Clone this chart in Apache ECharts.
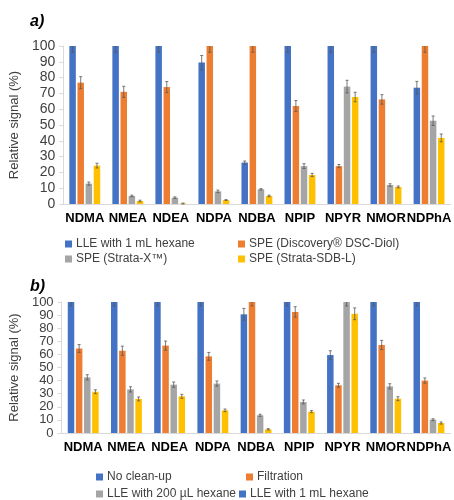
<!DOCTYPE html>
<html>
<head>
<meta charset="utf-8">
<script src="https://cdn.jsdelivr.net/npm/echarts@6/dist/echarts.min.js"></script>
<style>
  html, body { margin: 0; padding: 0; background: #fff; }
  #chart { width: 454px; height: 500px; }
</style>
</head>
<body>
<div id="chart"></div>
<script>
// Nitrosamine analytes (shared by both panels)
const categories = ['NDMA', 'NMEA', 'NDEA', 'NDPA', 'NDBA', 'NPIP', 'NPYR', 'NMOR', 'NDPhA'];
const yTicks = [0, 10, 20, 30, 40, 50, 60, 70, 80, 90, 100];

// Panel a) clean-up procedures
const namesA = ['LLE with 1 mL hexane', 'SPE (Discovery® DSC-Diol)', 'SPE (Strata-X™)', 'SPE (Strata-SDB-L)'];
const a_lle1   = [100, 100, 100, 89.5, 26.2, 100, 100, 100, 73.6];
const a_diol   = [76.8, 71, 74, 100, 100, 62, 24, 66.2, 100];
const a_strX   = [12.9, 5.1, 4, 8, 9.3, 24, 74.3, 12, 52.7];
const a_sdb    = [24.3, 1.9, 0.3, 2.5, 5.1, 18.4, 67.7, 10.8, 41.8];
const a_lle1Err = [4, 4, 4, 4.5, 1, 4, 4, 4, 4];
const a_diolErr = [3.8, 3.5, 3.5, 4, 4, 3.5, 1, 3, 4];
const a_strXErr = [1, 0.5, 0.5, 0.8, 0.4, 1.5, 4, 0.8, 3];
const a_sdbErr  = [1.5, 0.5, 0.3, 0.3, 0.5, 1, 3, 0.6, 2.5];

// Panel b) sample preparation
const namesB = ['No clean-up', 'Filtration', 'LLE with 200 µL hexane', 'LLE with 1 mL hexane'];
const b_none   = [100, 100, 100, 100, 90.6, 100, 59.5, 100, 100];
const b_filt   = [64.5, 62.8, 66.7, 58.5, 100, 92.4, 36.4, 67.2, 40];
const b_lle200 = [42.5, 33.3, 36.9, 37.7, 13.5, 23.7, 100, 35.6, 10.2];
const b_lle1   = [31.5, 26, 28, 17.3, 2.8, 16.3, 91, 26.2, 7.6];
const b_noneErr   = [3, 3, 3, 3, 4.5, 3, 3.3, 3, 3];
const b_filtErr   = [3, 3.5, 3.5, 3, 3, 4, 1.5, 3.5, 2];
const b_lle200Err = [2, 2, 2, 2, 0.8, 1.5, 3, 2, 0.7];
const b_lle1Err   = [1.5, 1.5, 1.5, 1, 0.5, 0.8, 4.5, 1.5, 0.8];

const colors = ['#4472C4', '#ED7D31', '#A5A5A5', '#FFC000'];
const FONT = 'Liberation Sans, Arial, sans-serif';
const BAR_W = 6.5;
const BAR_GAP = 0.25;

const chart = echarts.init(document.getElementById('chart'), null, { renderer: 'canvas' });

// error whiskers drawn on top of each bar, clipped to the plot area
function errorSeries(gridIdx, values, errs, slot) {
  const step = BAR_W * (1 + BAR_GAP);
  const offset = (slot - 1.5) * step;
  return {
    type: 'custom',
    xAxisIndex: gridIdx, yAxisIndex: gridIdx,
    silent: true, z: 5,
    data: values.map((v, i) => [i, v, errs[i]]),
    renderItem: function (params, api) {
      const cs = params.coordSys;
      const i = api.value(0), v = api.value(1), e = api.value(2);
      const c = api.coord([i, v]);
      const x = c[0] + offset;
      let yHi = api.coord([i, v + e])[1];
      let yLo = api.coord([i, v - e])[1];
      const top = cs.y;
      const children = [];
      const style = { stroke: '#595959', lineWidth: 0.8 };
      const capHalf = 1.5;
      const clippedTop = yHi < top;
      if (clippedTop) yHi = top;
      children.push({ type: 'line', shape: { x1: x, y1: yHi, x2: x, y2: yLo }, style });
      if (!clippedTop) children.push({ type: 'line', shape: { x1: x - capHalf, y1: yHi, x2: x + capHalf, y2: yHi }, style });
      children.push({ type: 'line', shape: { x1: x - capHalf, y1: yLo, x2: x + capHalf, y2: yLo }, style });
      return { type: 'group', children };
    }
  };
}

function barSeries(gridIdx, name, values, slot) {
  return {
    type: 'bar', name,
    xAxisIndex: gridIdx, yAxisIndex: gridIdx,
    data: values,
    barWidth: BAR_W,
    barGap: (BAR_GAP * 100) + '%',
    itemStyle: { color: colors[slot] },
    animation: false
  };
}

function xAxisCfg(gridIdx) {
  return {
    type: 'category', gridIndex: gridIdx, data: categories,
    axisLine: { lineStyle: { color: '#D9D9D9' } },
    axisTick: { show: false },
    axisLabel: { fontFamily: FONT, fontWeight: 'bold', fontSize: 13, color: '#000', margin: 8, interval: 0 }
  };
}

function yAxisCfg(gridIdx, fontSize, lineHeight, nameGap) {
  return {
    type: 'value', gridIndex: gridIdx, min: 0, max: 100, interval: 10,
    name: 'Relative signal (%)', nameLocation: 'middle', nameGap: nameGap,
    nameTextStyle: { fontFamily: FONT, fontSize: 13, color: '#404040' },
    axisLine: { show: true, lineStyle: { color: '#D9D9D9' } },
    axisTick: { show: true, length: 4, lineStyle: { color: '#D9D9D9' } },
    splitLine: { show: false },
    axisLabel: {
      fontFamily: FONT, fontSize: fontSize, lineHeight: lineHeight, color: '#404040', margin: 8,
      showMinLabel: true, showMaxLabel: true, hideOverlap: false,
      formatter: v => yTicks.includes(v) ? String(v) : ''
    }
  };
}

function legendItem(name, left, top) {
  return {
    data: [name], left, top, orient: 'horizontal',
    itemWidth: 7, itemHeight: 7, itemGap: 4,
    icon: 'rect', selectedMode: false, padding: 0,
    textStyle: { fontFamily: FONT, fontSize: 12, color: '#404040', padding: [0, 0, 0, -1] }
  };
}

const series = [];
[a_lle1, a_diol, a_strX, a_sdb].forEach((vals, k) => series.push(barSeries(0, namesA[k], vals, k)));
[a_lle1Err, a_diolErr, a_strXErr, a_sdbErr].forEach((errs, k) =>
  series.push(errorSeries(0, [a_lle1, a_diol, a_strX, a_sdb][k], errs, k)));
[b_none, b_filt, b_lle200, b_lle1].forEach((vals, k) => series.push(barSeries(1, namesB[k], vals, k)));
[b_noneErr, b_filtErr, b_lle200Err, b_lle1Err].forEach((errs, k) =>
  series.push(errorSeries(1, [b_none, b_filt, b_lle200, b_lle1][k], errs, k)));

chart.setOption({
  animation: false,
  textStyle: { fontFamily: FONT },
  title: [
    { text: 'a)', left: 25, top: 9, textStyle: { fontFamily: FONT, fontSize: 16, fontWeight: 'bold', fontStyle: 'italic', color: '#000' } },
    { text: 'b)', left: 25, top: 274, textStyle: { fontFamily: FONT, fontSize: 16, fontWeight: 'bold', fontStyle: 'italic', color: '#000' } }
  ],
  grid: [
    { left: 58.5, top: 46, width: 395, height: 158 },
    { left: 58.5, top: 302, width: 395, height: 131 }
  ],
  xAxis: [xAxisCfg(0), xAxisCfg(1)],
  yAxis: [yAxisCfg(0, 14, 14, 38), yAxisCfg(1, 13, 12, 38)],
  legend: [
    legendItem(namesA[0], 65, 238),
    legendItem(namesA[1], 238, 238),
    legendItem(namesA[2], 65, 253),
    legendItem(namesA[3], 238, 253),
    legendItem(namesB[0], 96, 471),
    legendItem(namesB[1], 246, 471),
    legendItem(namesB[2], 96, 488),
    legendItem(namesB[3], 239, 488)
  ],
  series
});
</script>
</body>
</html>
